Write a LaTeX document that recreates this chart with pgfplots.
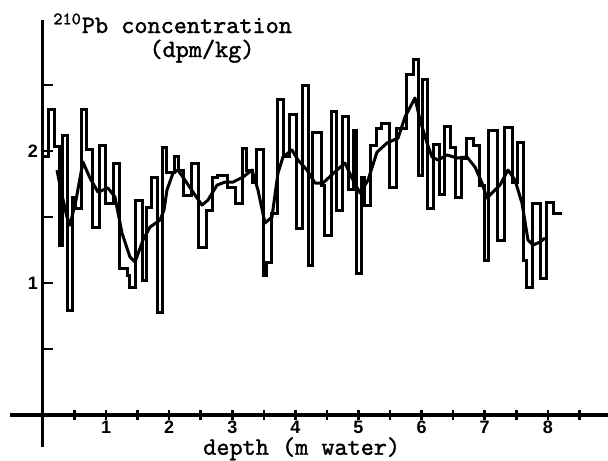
\documentclass[border=0pt]{standalone}
\usepackage{fontspec}
\setsansfont{Liberation Sans}
\newfontfamily\tyw{lmmono10-regular.otf}[FakeBold=1.4]
\usepackage{pgfplots}
\pgfplotsset{compat=1.18}
\begin{document}
\begin{tikzpicture}
\begin{axis}[
  scale only axis,
  width=299pt, height=213.5pt,
  xmin=-0.523, xmax=8.954, ymin=-0.242, ymax=2.992,
  axis lines=middle,
  x axis line style={-, line width=2.2pt},
  y axis line style={-, line width=1.5pt},
  xtick={1,...,8}, minor xtick={0.5,1.5,...,8.5},
  ytick={1,2}, minor ytick={0.5,1.5,2.5},
  xtick align=center, ytick align=inside,
  major tick length=5pt, minor tick length=5pt,
  every tick/.style={black, line width=1.3pt},
  tick label style={font=\sffamily\bfseries\fontsize{9}{10}\selectfont},
  xticklabel style={yshift=3pt},
  yticklabel style={xshift=1pt},
  /pgf/number format/assume math mode=true,
  clip=false,
]
\addplot[const plot, black, line width=1.5pt, line join=miter] coordinates {
(0.000,1.955) (0.095,2.318) (0.190,2.038) (0.254,1.288) (0.317,2.121)
(0.396,0.795) (0.475,1.652) (0.523,1.568) (0.618,2.318) (0.697,2.008)
(0.792,1.424) (0.903,2.045) (0.998,1.606) (1.125,1.902) (1.220,1.114)
(1.347,1.061) (1.379,0.970) (1.474,1.629) (1.585,1.023) (1.648,1.576)
(1.727,1.803) (1.807,0.780) (1.902,2.030) (1.965,1.841) (2.092,1.955)
(2.155,1.856) (2.219,1.667) (2.361,1.902) (2.472,1.273) (2.599,1.553)
(2.694,1.803) (2.773,1.818) (2.932,1.727) (3.043,1.606) (3.154,2.023)
(3.233,1.856) (3.328,1.765) (3.391,2.008) (3.487,1.061) (3.550,1.159)
(3.629,1.530) (3.724,2.394) (3.819,1.955) (3.914,2.280) (4.025,1.417)
(4.120,2.500) (4.200,1.136) (4.279,2.144) (4.406,1.742) (4.469,1.364)
(4.580,2.303) (4.659,1.553) (4.739,2.258) (4.834,1.712) (4.913,2.159)
(4.976,1.076) (5.055,1.803) (5.103,1.591) (5.198,2.045) (5.293,2.174)
(5.372,2.205) (5.499,1.727) (5.610,2.174) (5.753,2.576) (5.864,2.697)
(5.943,1.818) (6.022,2.545) (6.101,1.568) (6.181,2.053) (6.276,1.674)
(6.355,2.189) (6.450,2.030) (6.545,1.652) (6.640,1.947) (6.719,2.098)
(6.830,2.045) (6.910,1.742) (6.989,1.174) (7.068,2.159) (7.195,1.326)
(7.306,2.182) (7.433,1.765) (7.512,2.061) (7.607,1.174) (7.655,0.970)
(7.765,1.606) (7.892,1.038) (7.987,1.614) (8.098,1.530) (8.225,1.530)
};
\addplot[black, line width=1.5pt, line join=round] coordinates {
(0.222,1.856) (0.301,1.667) (0.380,1.500) (0.428,1.439) (0.523,1.629)
(0.634,1.917) (0.745,1.795) (0.872,1.689) (1.030,1.720) (1.141,1.652)
(1.252,1.379) (1.379,1.197) (1.458,1.159) (1.585,1.326) (1.696,1.424)
(1.854,1.477) (1.918,1.553) (1.965,1.705) (2.060,1.833) (2.139,1.856)
(2.250,1.780) (2.409,1.667) (2.520,1.591) (2.615,1.629) (2.758,1.742)
(2.884,1.765) (3.011,1.765) (3.170,1.803) (3.312,1.856) (3.407,1.705)
(3.518,1.455) (3.629,1.500) (3.724,1.833) (3.803,1.955) (3.946,2.008)
(4.041,1.932) (4.184,1.856) (4.311,1.758) (4.437,1.758) (4.659,1.856)
(4.786,1.909) (4.913,1.780) (5.024,1.682) (5.151,1.780) (5.293,1.992)
(5.452,2.061) (5.626,2.098) (5.737,2.258) (5.895,2.402) (5.975,2.235)
(6.086,2.061) (6.165,1.955) (6.260,1.932) (6.403,1.970) (6.561,1.947)
(6.719,1.955) (6.846,1.879) (6.957,1.758) (7.036,1.644) (7.163,1.705)
(7.242,1.742) (7.369,1.856) (7.480,1.780) (7.591,1.606) (7.686,1.326)
(7.765,1.288) (7.876,1.311) (7.956,1.341)
};
\node[anchor=base west, inner sep=0pt, font=\tyw\fontsize{12.5}{14}\selectfont] at (axis cs:0.158,2.894) {\textsuperscript{210}Pb concentration};
\node[anchor=base, inner sep=0pt, font=\tyw\fontsize{12.5}{14}\selectfont] at (axis cs:2.52,2.712) {(dpm/kg)};
\node[anchor=base, inner sep=0pt, font=\tyw\fontsize{12.5}{14}\selectfont] at (axis cs:4.10,-0.300) {depth (m water)};
\coordinate (BL) at (axis cs:-0.681,-0.341);
\coordinate (TR) at (axis cs:8.954,3.144);
\end{axis}
\pgfresetboundingbox
\path[use as bounding box] (BL) rectangle (TR);
\end{tikzpicture}
\end{document}
